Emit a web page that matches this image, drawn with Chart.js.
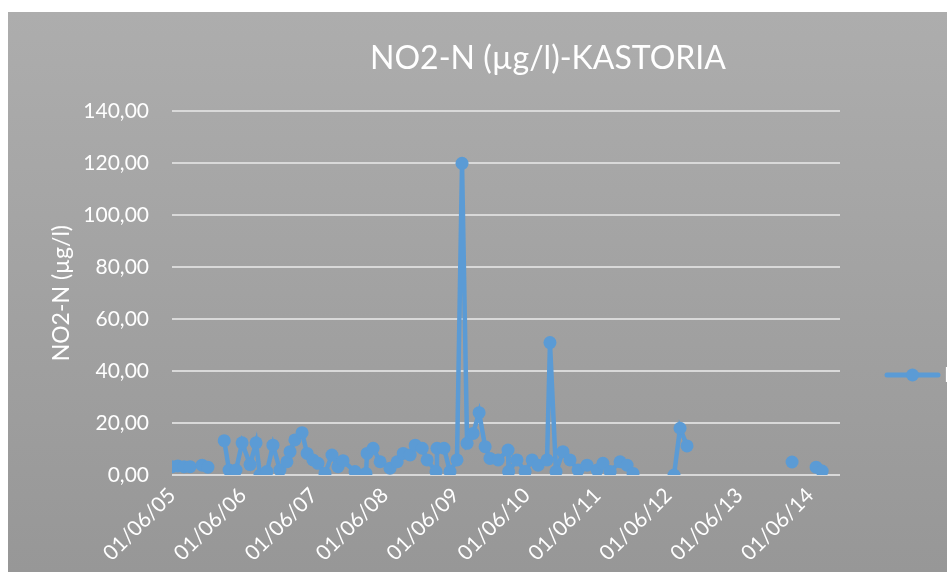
<!DOCTYPE html>
<html>
<head>
<meta charset="utf-8">
<script src="https://cdn.jsdelivr.net/npm/chart.js@4.4.1/dist/chart.umd.min.js"></script>
<style>
html,body{margin:0;padding:0;background:#ffffff;overflow:hidden;width:947px;height:572px;}
#frame{position:absolute;left:8px;top:12px;width:1080px;height:560px;background:linear-gradient(#adadad,#979797);}
canvas{display:block;}
</style>
</head>
<body>
<div id="frame"><canvas id="chart" width="1080" height="560"></canvas></div>
<script>
// ---- data ----
const sampleDates = [
  '2005-06-01','2005-07-01','2005-08-02','2005-09-02','2005-11-03','2005-12-03','2006-01-15',
  '2006-02-25','2006-03-22','2006-04-27','2006-05-28','2006-07-08','2006-08-08','2006-08-28',
  '2006-10-03','2006-11-03','2006-12-09','2007-01-14','2007-01-30','2007-02-24','2007-04-02',
  '2007-04-28','2007-05-28','2007-06-23','2007-07-29','2007-09-03','2007-10-04','2007-10-30',
  '2007-12-31','2008-02-25','2008-03-02','2008-04-02','2008-05-08','2008-06-28','2008-08-04',
  '2008-09-04','2008-10-10','2008-11-05','2008-12-11','2009-01-05','2009-02-20','2009-02-25',
  '2009-04-02','2009-05-03','2009-06-08','2009-07-04','2009-07-30','2009-08-30','2009-09-30',
  '2009-10-31','2009-11-25','2010-01-06','2010-02-26','2010-03-01','2010-04-13','2010-05-25',
  '2010-06-30','2010-07-31','2010-09-15','2010-09-30','2010-10-31','2010-12-06','2011-01-11',
  '2011-02-22','2011-04-09','2011-05-31','2011-06-30','2011-08-06','2011-09-26','2011-11-01',
  '2011-12-02','2012-03-15','2012-06-30','2012-07-31','2012-09-05','2013-06-01','2014-02-28',
  '2014-05-01','2014-07-02','2014-08-02'
];
const no2Values = [
  3.2, 3.5, 3.2, 3.2, 3.8, 3.0, null,
  13.2, 1.9, 1.9, 12.4, 4.0, 12.4, 0.0,
  1.3, 11.5, 1.9, 5.1, 9.0, 13.5, 16.3,
  8.3, 5.8, 4.5, 0.6, 7.7, 3.2, 5.5,
  1.3, 0.6, 8.3, 10.3, 5.1, 2.6, 5.1,
  8.3, 7.7, 11.5, 10.3, 5.8, 1.3, 10.3,
  10.3, 1.3, 5.8, 120.0, 12.2, 16.0, 24.0,
  10.9, 6.4, 5.8, 9.6, 1.3, 5.8, 1.3,
  5.8, 3.8, 5.8, 51.0, 1.3, 9.0, 5.8,
  1.9, 3.8, 1.9, 4.5, 1.3, 5.1, 3.8,
  0.6, null, 0.0, 18.0, 11.2, null, 5.0,
  null, 3.0, 1.5
];
const xTickDates = ['2005-06-01','2006-06-01','2007-06-01','2008-06-01','2009-06-01',
                    '2010-06-01','2011-06-01','2012-06-01','2013-06-01','2014-06-01'];
const xTickLabels = ['01/06/05','01/06/06','01/06/07','01/06/08','01/06/09',
                     '01/06/10','01/06/11','01/06/12','01/06/13','01/06/14'];
const xRange = ['2005-06-01','2014-11-02'];
const yTickValues = [0,20,40,60,80,100,120,140];
const seriesName = 'NO2-N (µg/l)';
const chartTitle = 'NO2-N (µg/l)-KASTORIA';

// ---- helpers ----
const dayOf = s => Date.UTC(+s.slice(0,4), +s.slice(5,7)-1, +s.slice(8,10)) / 86400000;
const points = sampleDates.map((d,i) => ({x: dayOf(d), y: no2Values[i]}));
const tickDays = xTickDates.map(dayOf);

const BLUE = '#5b9bd5';
const FONT = 'Lato, "Open Sans", sans-serif';

const legendPlugin = {
  id: 'sideLegend',
  afterDraw(chart) {
    const ctx = chart.ctx;
    const y = 363, x0 = 879, x1 = 930;
    ctx.save();
    ctx.strokeStyle = BLUE; ctx.lineWidth = 5; ctx.lineCap = 'round';
    ctx.beginPath(); ctx.moveTo(x0, y); ctx.lineTo(x1, y); ctx.stroke();
    ctx.fillStyle = BLUE;
    ctx.beginPath(); ctx.arc((x0+x1)/2, y, 6.5, 0, Math.PI*2); ctx.fill();
    ctx.fillStyle = '#ffffff';
    ctx.font = '21px ' + FONT;
    ctx.textBaseline = 'middle';
    ctx.fillText(seriesName, 936, y);
    ctx.restore();
  }
};

new Chart(document.getElementById('chart'), {
  type: 'line',
  data: {
    datasets: [{
      label: seriesName,
      data: points,
      borderColor: BLUE,
      backgroundColor: BLUE,
      borderWidth: 4.5,
      pointRadius: 6.5,
      pointBorderWidth: 0,
      pointBackgroundColor: BLUE,
      spanGaps: false,
      tension: 0,
      xAxisID: 'x',
      yAxisID: 'y'
    }]
  },
  options: {
    responsive: false,
    animation: false,
    devicePixelRatio: 1,
    layout: {padding: 0},
    plugins: {
      legend: {display: false},
      tooltip: {enabled: false},
      title: {
        display: true,
        text: chartTitle,
        color: '#ffffff',
        font: {family: FONT, size: 32, weight: 'normal'},
        padding: {top: 27, bottom: 34}
      }
    },
    scales: {
      x: {
        type: 'linear',
        min: dayOf(xRange[0]),
        max: dayOf(xRange[1]),
        grid: {display: false, drawTicks: false},
        border: {display: false},
        afterBuildTicks: s => { s.ticks = tickDays.map(v => ({value: v})); },
        afterFit: s => { s.height = 97; },
        ticks: {
          autoSkip: false,
          minRotation: 45,
          maxRotation: 45,
          padding: 8,
          color: '#ffffff',
          font: {family: FONT, size: 21},
          callback: (v) => { const i = tickDays.indexOf(v); return i >= 0 ? xTickLabels[i] : ''; }
        }
      },
      y: {
        min: 0,
        max: 140,
        afterBuildTicks: s => { s.ticks = yTickValues.map(v => ({value: v})); },
        afterFit: s => { s.width = 164; },
        grid: {color: '#d9d9d9', lineWidth: 2, drawTicks: false},
        border: {display: false},
        ticks: {
          padding: 23,
          color: '#ffffff',
          font: {family: FONT, size: 21},
          callback: v => v.toFixed(2).replace('.', ',')
        },
        title: {
          display: true,
          text: seriesName,
          color: '#ffffff',
          font: {family: FONT, size: 23, weight: 'normal'},
          padding: {top: 40, bottom: 0}
        }
      },
      legendSpace: {
        type: 'linear',
        position: 'right',
        min: 0,
        max: 1,
        grid: {display: false, drawTicks: false},
        border: {display: false},
        ticks: {display: false},
        afterFit: s => { s.width = 248; }
      }
    }
  },
  plugins: [legendPlugin]
});
</script>
</body>
</html>
